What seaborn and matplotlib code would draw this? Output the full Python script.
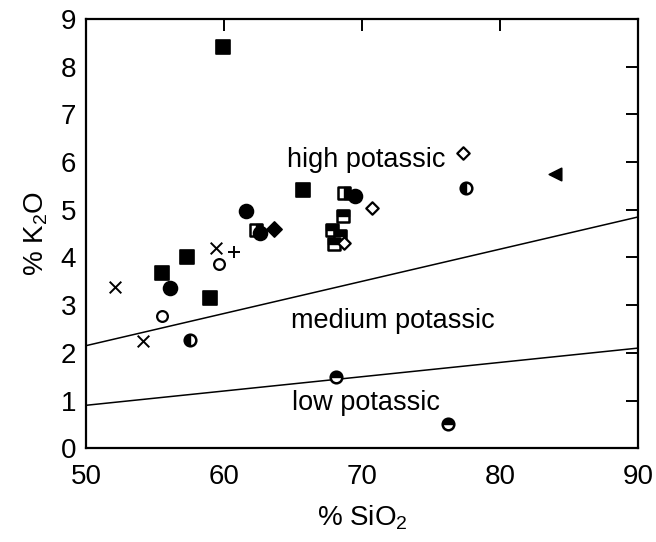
import matplotlib
matplotlib.use("Agg")
import matplotlib.pyplot as plt
from matplotlib.markers import MarkerStyle
import numpy as np
import pandas as pd
import seaborn as sns

# SiO2 / K2O analyses grouped by symbol
sq_fill_x = [59.9, 65.7, 57.3, 55.5, 59.0]
sq_fill_y = [8.41, 5.41, 4.00, 3.67, 3.15]
circ_fill_x = [56.1, 61.6, 69.5, 62.6]
circ_fill_y = [3.35, 4.97, 5.28, 4.52]
circ_open_x = [55.5, 59.6]
circ_open_y = [2.77, 3.86]
cross_x = [52.1, 54.1, 59.4]
cross_y = [3.39, 2.24, 4.19]
plus_x = [60.7]
plus_y = [4.11]
circ_left_x = [57.5, 77.5]
circ_left_y = [2.26, 5.45]
circ_top_x = [68.1, 76.2]
circ_top_y = [1.49, 0.50]
dia_open_x = [77.3, 70.7, 68.7]
dia_open_y = [6.18, 5.03, 4.30]
dia_fill_x = [63.6]
dia_fill_y = [4.59]
sq_right_x = [62.3, 68.7]
sq_right_y = [4.57, 5.35]
sq_top_x = [68.6, 67.8, 68.4, 68.0]
sq_top_y = [4.86, 4.57, 4.44, 4.28]
tri_x = [84.0]
tri_y = [5.74]

# Boundary lines between potassium series
upper_x = [50, 90]
upper_y = [2.15, 4.85]
lower_x = [50, 90]
lower_y = [0.90, 2.10]

field_labels = ["high potassic", "medium potassic", "low potassic"]
field_x = [70.3, 72.2, 70.3]
field_y = [6.04, 2.66, 0.94]

x_ticks = [50, 60, 70, 80, 90]
y_ticks = list(range(0, 10))

sns.set_theme(style="white")
plt.rcParams["font.family"] = ["Liberation Sans", "DejaVu Sans"]
plt.rcParams["mathtext.fontset"] = "custom"
plt.rcParams["mathtext.rm"] = "Liberation Sans"
plt.rcParams["mathtext.it"] = "Liberation Sans"

fig = plt.figure(figsize=(6.56, 5.42), dpi=100)
ax = fig.add_axes([0.131, 0.173, 0.842, 0.792])

# boundary lines
sns.lineplot(x=upper_x, y=upper_y, ax=ax, color="black", lw=1.1)
sns.lineplot(x=lower_x, y=lower_y, ax=ax, color="black", lw=1.1)


def pts(xs, ys, marker, s, fc="black", ec="black", lw=1.2, z=3):
    sns.scatterplot(x=xs, y=ys, ax=ax, marker=marker, s=s, color=fc,
                    edgecolor=ec, linewidth=lw, zorder=z)


def half(xs, ys, marker, fill, s, z=3):
    pts(xs, ys, marker, s, fc="white", ec="black", lw=1.8, z=z)
    sns.scatterplot(x=xs, y=ys, ax=ax, marker=MarkerStyle(marker, fillstyle=fill),
                    s=s, color="black", edgecolor="black", linewidth=1.0, zorder=z + 0.1)


pts(sq_fill_x, sq_fill_y, "s", 95)
half(sq_right_x, sq_right_y, "s", "right", 85)
half(sq_top_x, sq_top_y, "s", "top", 85)
pts(circ_fill_x, circ_fill_y, "o", 100, z=4)
pts(circ_open_x, circ_open_y, "o", 60, fc="white", lw=1.6)
pts(cross_x, cross_y, "x", 70, lw=1.4)
pts(plus_x, plus_y, "+", 70, lw=1.4)
half(circ_left_x, circ_left_y, "o", "left", 70)
half(circ_top_x, circ_top_y, "o", "top", 70)
pts(dia_open_x, dia_open_y, "D", 40, fc="white", lw=1.6, z=5)
pts(dia_fill_x, dia_fill_y, "D", 60)
pts(tri_x, tri_y, "<", 80)

for lab, lx, ly in zip(field_labels, field_x, field_y):
    ax.text(lx, ly, lab, ha="center", va="center", fontsize=19.5, color="black")

ax.set_xlim(50, 90)
ax.set_ylim(0, 9)
ax.set_xticks(x_ticks)
ax.set_yticks(y_ticks)
ax.tick_params(axis="both", which="both", direction="in", length=8.5, width=1.4,
               top=True, right=True, labelsize=20, colors="black")
ax.tick_params(axis="x", pad=11)
ax.tick_params(axis="y", pad=7)
for sp in ax.spines.values():
    sp.set_visible(True)
    sp.set_color("black")
    sp.set_linewidth(1.6)

ax.set_xlabel("% SiO$_2$", fontsize=20, labelpad=10, color="black")
ax.set_ylabel("% K$_2$O", fontsize=20, labelpad=8, color="black")

fig.savefig("out.png", dpi=100, facecolor="white")
